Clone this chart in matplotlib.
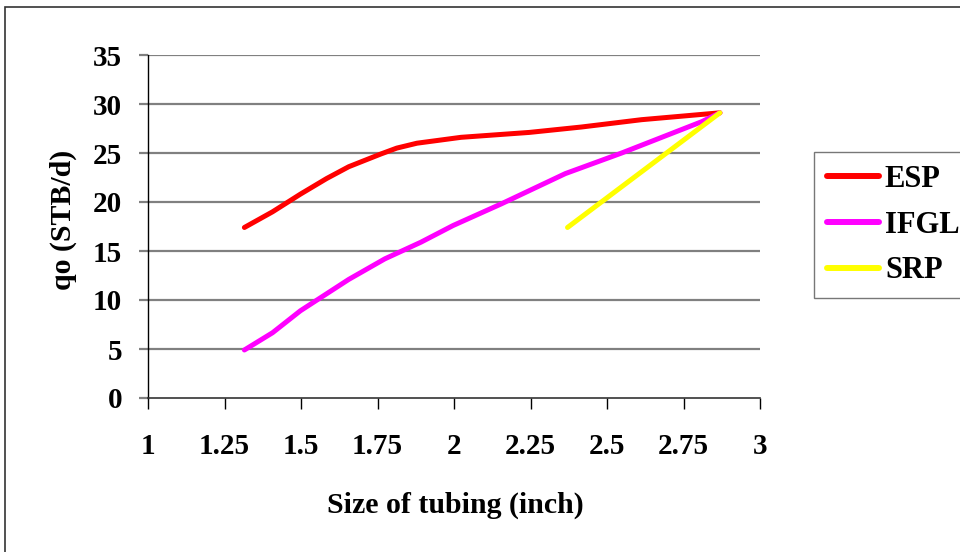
import matplotlib
matplotlib.use("Agg")
import matplotlib.pyplot as plt
from matplotlib.patches import Rectangle

esp_x = [1.315, 1.407, 1.498, 1.584, 1.656, 1.761, 1.813, 1.879, 2.023, 2.246, 2.416, 2.613, 2.869]
esp_y = [17.4, 19.0, 20.8, 22.4, 23.6, 24.9, 25.5, 26.0, 26.6, 27.1, 27.65, 28.4, 29.1]
ifgl_x = [1.315, 1.407, 1.498, 1.656, 1.774, 1.892, 1.997, 2.154, 2.364, 2.548, 2.810, 2.869]
ifgl_y = [4.9, 6.66, 8.9, 12.1, 14.2, 15.9, 17.6, 19.8, 22.9, 25.0, 28.2, 29.1]
srp_x = [2.371, 2.869]
srp_y = [17.4, 29.1]

xticks = [1, 1.25, 1.5, 1.75, 2, 2.25, 2.5, 2.75, 3]
xticklabels = ["1", "1.25", "1.5", "1.75", "2", "2.25", "2.5", "2.75", "3"]
yticks = [0, 5, 10, 15, 20, 25, 30, 35]

plt.rcParams['font.family'] = ['Liberation Serif', 'DejaVu Serif']
plt.rcParams['font.weight'] = 'bold'

fig = plt.figure(figsize=(9.6, 5.52), dpi=100)
W, H = 960, 552
ax = fig.add_axes([148 / W, 1 - 398 / H, (760 - 148) / W, (398 - 55) / H])

ax.plot(esp_x, esp_y, color='#ff0000', lw=3.6, label='ESP', solid_capstyle='round', zorder=3)
ax.plot(ifgl_x, ifgl_y, color='#ff00ff', lw=3.6, label='IFGL', solid_capstyle='round', zorder=3)
ax.plot(srp_x, srp_y, color='#ffff00', lw=3.6, label='SRP', solid_capstyle='round', zorder=4)

ax.set_xlim(1, 3)
ax.set_ylim(0, 35)
ax.set_xticks(xticks)
ax.set_xticklabels(xticklabels)
ax.set_yticks(yticks)

for y in yticks[1:]:
    ax.axhline(y, color='#808080', lw=1.6, zorder=1)

for s in ['top', 'right']:
    ax.spines[s].set_visible(False)
ax.spines['left'].set_color('black')
ax.spines['left'].set_linewidth(1.0)
ax.spines['bottom'].set_color('#333333')
ax.spines['bottom'].set_linewidth(1.2)

ax.tick_params(axis='x', direction='out', length=8, width=1.0, color='black',
               labelsize=21, pad=17)
ax.tick_params(axis='y', direction='out', length=6.5, width=1.6, color='#808080',
               labelsize=21, pad=12)
for lbl in ax.get_xticklabels() + ax.get_yticklabels():
    lbl.set_fontweight('bold')

fig.text(455 / W, 1 - 505 / H, 'Size of tubing (inch)', ha='center', va='center',
         fontsize=21.5, fontweight='bold')
fig.text(63 / W, 1 - 220 / H, 'qo (STB/d)', ha='center', va='center', rotation=90,
         fontsize=21.5, fontweight='bold')

leg = fig.legend(loc='upper left', bbox_to_anchor=(814 / W, 1 - 152 / H),
                 frameon=True, fancybox=False, edgecolor='#555555',
                 prop={'weight': 'bold', 'size': 22}, handlelength=1.7,
                 handletextpad=0.2, labelspacing=0.55, borderpad=0.42,
                 borderaxespad=0)
leg.get_frame().set_linewidth(1.0)
for line in leg.get_lines():
    line.set_linewidth(4.3)

fig.patches.append(Rectangle((5 / W, -0.1), 2.0, 1.1 - 7 / H, transform=fig.transFigure,
                             fill=False, edgecolor='#333333', lw=1.2))

fig.savefig('out.png', dpi=100)
